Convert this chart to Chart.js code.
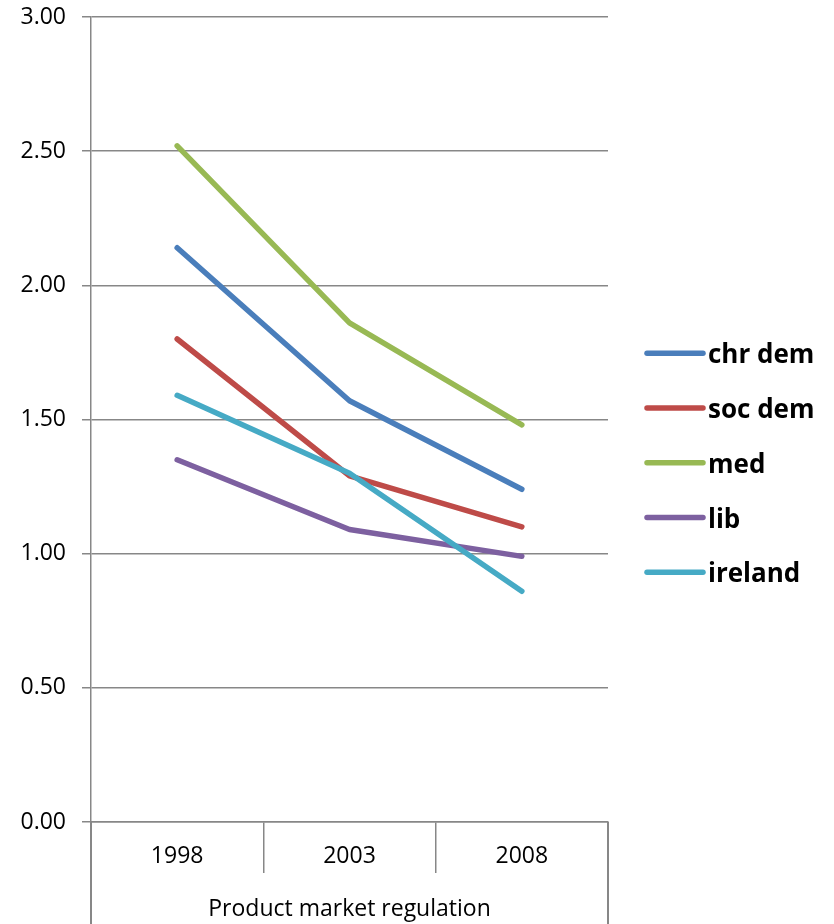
<!DOCTYPE html>
<html>
<head>
<meta charset="utf-8">
<title>Product market regulation</title>
<script src="https://cdn.jsdelivr.net/npm/chart.js@4"></script>
<style>
  html, body { margin: 0; padding: 0; background: #ffffff; }
  #wrap { width: 834px; height: 924px; }
</style>
</head>
<body>
<div id="wrap"><canvas id="chart" width="834" height="924"></canvas></div>
<script>
// Years on the category axis
const categories = ['1998', '2003', '2008'];

// Index values per country group
const chrDem  = [2.14, 1.57, 1.24];
const socDem  = [1.80, 1.29, 1.10];
const med     = [2.52, 1.86, 1.48];
const lib     = [1.35, 1.09, 0.99];
const ireland = [1.59, 1.30, 0.86];

const seriesNames = ['chr dem', 'soc dem', 'med', 'lib', 'ireland'];
const seriesValues = [chrDem, socDem, med, lib, ireland];
const seriesColors = ['#4A7EBB', '#BE4B48', '#98B954', '#7D60A0', '#46AAC5'];

const axisTitle = 'Product market regulation';
const yMin = 0, yMax = 3, yStep = 0.5;

const FONT = "'Open Sans', 'DejaVu Sans', sans-serif";
const GRID = '#878787';

// Legend drawn to the right of the plot: short line sample + bold label
const sideLegend = {
  id: 'sideLegend',
  afterDraw(chart, args, opts) {
    const ctx = chart.ctx;
    ctx.save();
    ctx.font = opts.font;
    ctx.textAlign = 'left';
    ctx.textBaseline = 'alphabetic';
    chart.data.datasets.forEach((ds, i) => {
      const y = opts.firstY + i * opts.step;
      ctx.strokeStyle = ds.borderColor;
      ctx.lineWidth = ds.borderWidth;
      ctx.lineCap = 'round';
      ctx.beginPath();
      ctx.moveTo(opts.x, y);
      ctx.lineTo(opts.x + opts.lineLength, y);
      ctx.stroke();
      ctx.fillStyle = '#000000';
      ctx.fillText(ds.label, opts.x + opts.lineLength + opts.gap, y + opts.baselineShift);
    });
    ctx.restore();
  }
};

// Outer frame lines of the category axis box, running down to the bottom edge
const axisFrame = {
  id: 'axisFrame',
  afterDraw(chart) {
    const ctx = chart.ctx;
    const xs = chart.scales.x;
    ctx.save();
    ctx.strokeStyle = GRID;
    ctx.lineWidth = 2;
    [xs.left, xs.right].forEach(px => {
      const x = Math.round(px);
      ctx.beginPath();
      ctx.moveTo(x, xs.top);
      ctx.lineTo(x, chart.height);
      ctx.stroke();
    });
    ctx.restore();
  }
};

const datasets = seriesNames.map((name, i) => ({
  label: name,
  data: seriesValues[i],
  borderColor: seriesColors[i],
  backgroundColor: seriesColors[i],
  borderWidth: 5.5,
  borderCapStyle: 'round',
  borderJoinStyle: 'round',
  pointRadius: 0,
  pointHoverRadius: 0,
  tension: 0,
  fill: false,
  order: seriesNames.length - 1 - i
}));

new Chart(document.getElementById('chart'), {
  type: 'line',
  data: { labels: categories, datasets },
  plugins: [sideLegend, axisFrame],
  options: {
    responsive: false,
    animation: false,
    events: [],
    layout: { padding: { top: 17, right: 226, bottom: 0, left: 0 } },
    plugins: {
      legend: { display: false },
      tooltip: { enabled: false },
      sideLegend: {
        x: 647,
        lineLength: 56,
        gap: 5,
        firstY: 353.3,
        step: 54.75,
        baselineShift: 10,
        font: "bold 26px " + FONT
      }
    },
    scales: {
      x: {
        type: 'category',
        offset: true,
        afterFit(scale) {
          scale.height = 102;
          scale.paddingLeft = 0;
          scale.paddingRight = 0;
        },
        grid: {
          offset: true,
          drawOnChartArea: false,
          drawTicks: true,
          tickLength: 51,
          color: GRID,
          lineWidth: 1.5
        },
        border: { display: true, color: GRID, width: 1.5 },
        ticks: {
          color: '#000000',
          font: { family: FONT, size: 23 },
          padding: -30,
          maxRotation: 0,
          autoSkip: false
        },
        title: {
          display: true,
          text: axisTitle,
          color: '#000000',
          font: { family: FONT, size: 23 },
          padding: { top: 0, bottom: 1 }
        }
      },
      y: {
        min: yMin,
        max: yMax,
        afterFit(scale) {
          scale.width = 91;
          scale.paddingTop = 0;
          scale.paddingBottom = 0;
        },
        grid: {
          color: GRID,
          lineWidth: 1.5,
          drawTicks: true,
          tickLength: 9
        },
        border: { display: true, color: GRID, width: 1.5 },
        ticks: {
          stepSize: yStep,
          color: '#000000',
          font: { family: FONT, size: 23 },
          padding: 16,
          callback: v => Number(v).toFixed(2)
        }
      }
    }
  }
});
</script>
</body>
</html>
